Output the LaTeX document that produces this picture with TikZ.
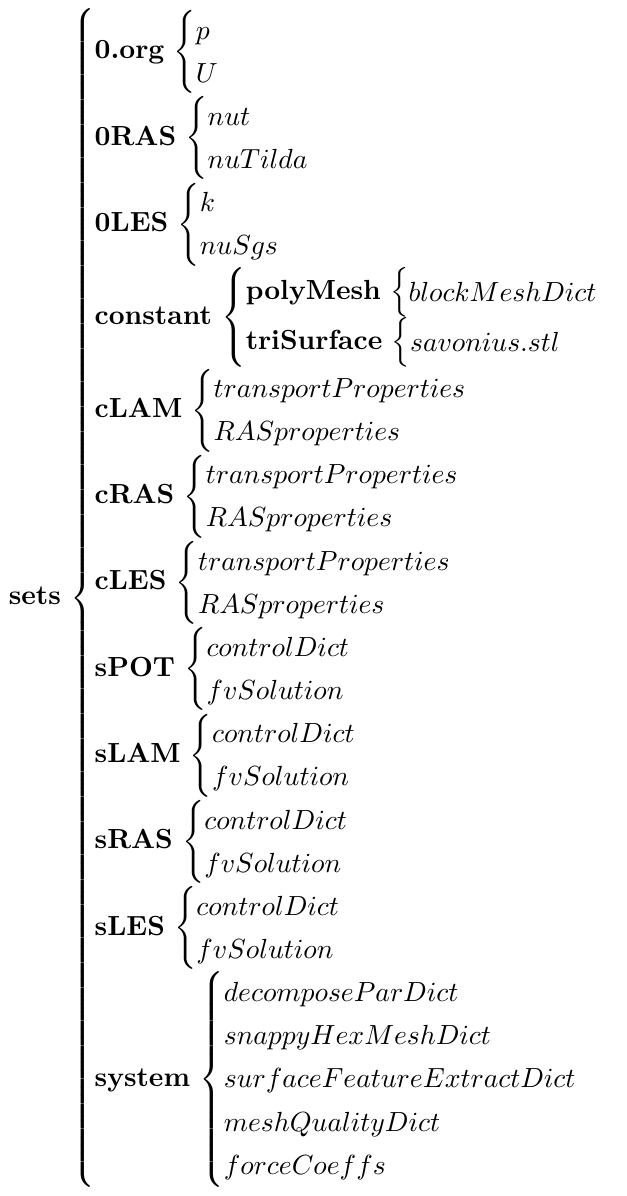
\documentclass[tikz,border=0pt]{standalone}
\usepackage{amsmath}
\newcommand{\grp}[2]{\textbf{#1}\,\left\{\begin{array}{@{}l@{}}#2\end{array}\right.}
\renewcommand{\arraystretch}{1.3}
\begin{document}
\begin{tikzpicture}
\node (tree) [inner sep=3pt] {$\displaystyle
\grp{sets}{
\grp{0.org}{p\\U}\\
\grp{0RAS}{nut\\nuTilda}\\
\grp{0LES}{k\\nuSgs}\\
\grp{constant}{
\grp{polyMesh}{blockMeshDict}\\
\grp{triSurface}{savonius.stl}}\\
\grp{cLAM}{transportProperties\\RASproperties}\\
\grp{cRAS}{transportProperties\\RASproperties}\\
\grp{cLES}{transportProperties\\RASproperties}\\
\grp{sPOT}{controlDict\\fvSolution}\\
\grp{sLAM}{controlDict\\fvSolution}\\
\grp{sRAS}{controlDict\\fvSolution}\\
\grp{sLES}{controlDict\\fvSolution}\\
\grp{system}{decomposeParDict\\snappyHexMeshDict\\surfaceFeatureExtractDict\\meshQualityDict\\forceCoeffs}}$};
\useasboundingbox (tree.south west) rectangle ([xshift=4pt]tree.north east);
\end{tikzpicture}
\end{document}
